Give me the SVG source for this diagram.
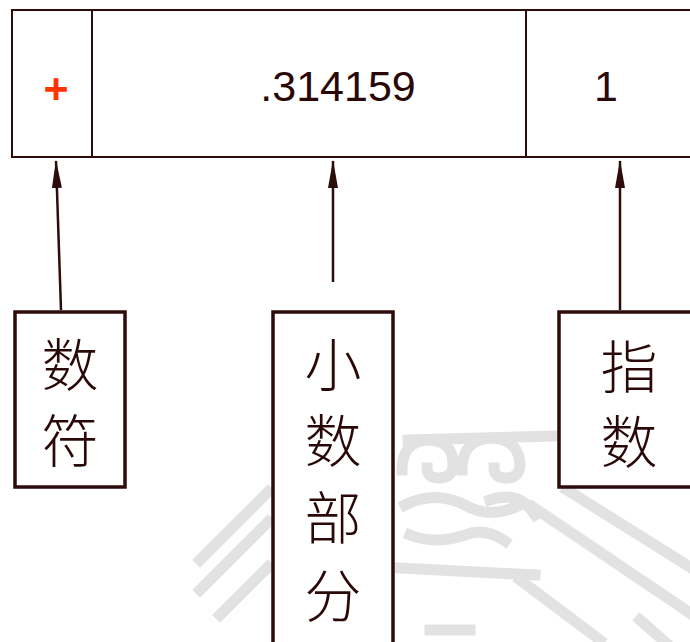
<svg xmlns="http://www.w3.org/2000/svg" width="690" height="642" viewBox="0 0 690 642">
  <style>
    .frame { fill: #ffffff; stroke: #2e0c0c; stroke-width: 2; }
    .div { stroke: #2e0c0c; stroke-width: 2; }
    .box { fill: #ffffff; stroke: #2e0c0c; stroke-width: 3.5; }
    .num { font-family: "Liberation Sans", Arial, sans-serif; font-size: 43px; fill: #2a0808; text-anchor: middle; }
    .sign { font-family: "Liberation Sans", Arial, sans-serif; font-size: 43px; fill: #ff3300; text-anchor: middle; font-weight: bold; }
    .cjk { font-family: "Noto Sans CJK SC", "Noto Sans CJK JP", sans-serif; font-size: 57px; fill: #2a0808; text-anchor: middle; font-weight: 300; }
    .conn { stroke: #2e0c0c; stroke-width: 2.5; fill: none; }
    .wm { fill: none; stroke: #e2e2e2; stroke-width: 11; stroke-linecap: square; stroke-linejoin: round; }
  </style>
  <defs>
    <marker id="head" viewBox="0 0 28 10" refX="27" refY="5" markerWidth="28" markerHeight="10" markerUnits="userSpaceOnUse" orient="auto">
      <path d="M0 0 L28 5 L0 10 Z" fill="#2e0c0c"/>
    </marker>
  </defs>

  <!-- faint background seal ornament -->
  <g id="ornament">
    <path class="wm" d="M200 560 L268 492"/>
    <path class="wm" d="M200 590 L268 522"/>
    <path class="wm" d="M220 615 L268 567"/>
    <path class="wm" d="M402 470 q0 -28 25 -30 q26 0 26 24 q0 14 -14 14 q-12 0 -12 -10"/>
    <path class="wm" d="M462 470 q0 -30 28 -32 q28 0 30 26 q0 14 -14 14 q-12 0 -12 -10"/>
    <path class="wm" d="M408 440 L560 436"/>
    <path class="wm" d="M405 505 q30 -15 60 0 q25 15 55 0"/>
    <path class="wm" d="M410 535 q25 10 55 0 q20 -8 40 6"/>
    <path class="wm" d="M400 568 L535 575"/>
    <path class="wm" d="M490 500 q30 -10 45 15"/>
    <path class="wm" d="M533 507 L690 613"/>
    <path class="wm" d="M567 490 L690 567"/>
    <path class="wm" d="M520 580 L600 640"/>
    <path class="wm" d="M640 620 L665 642"/>
    <path class="wm" d="M430 630 L470 630"/>
  </g>

  <!-- number register -->
  <g id="register">
    <rect class="frame" x="12" y="10" width="690" height="147"/>
    <line class="div" x1="92" y1="10" x2="92" y2="157"/>
    <line class="div" x1="526" y1="10" x2="526" y2="157"/>
    <text class="sign" x="56" y="103">+</text>
    <text class="num" x="338" y="101">.314159</text>
    <text class="num" x="606" y="101">1</text>
  </g>

  <!-- pointers from labels to fields -->
  <g id="connectors">
    <line class="conn" x1="61" y1="310" x2="56" y2="161" marker-end="url(#head)"/>
    <line class="conn" x1="333" y1="282" x2="333" y2="161" marker-end="url(#head)"/>
    <line class="conn" x1="620" y1="310" x2="620" y2="161" marker-end="url(#head)"/>
  </g>

  <g id="label-sign">
    <rect class="box" x="15" y="312" width="110" height="175"/>
    <text class="cjk" x="70" y="386">数</text>
    <text class="cjk" x="70" y="462">符</text>
  </g>

  <g id="label-fraction">
    <rect class="box" x="273" y="312" width="120" height="340"/>
    <text class="cjk" x="333" y="386">小</text>
    <text class="cjk" x="333" y="462">数</text>
    <text class="cjk" x="333" y="539">部</text>
    <text class="cjk" x="333" y="617">分</text>
  </g>

  <g id="label-exponent">
    <rect class="box" x="559" y="312" width="150" height="175"/>
    <text class="cjk" x="629" y="388">指</text>
    <text class="cjk" x="629" y="463">数</text>
  </g>
</svg>
